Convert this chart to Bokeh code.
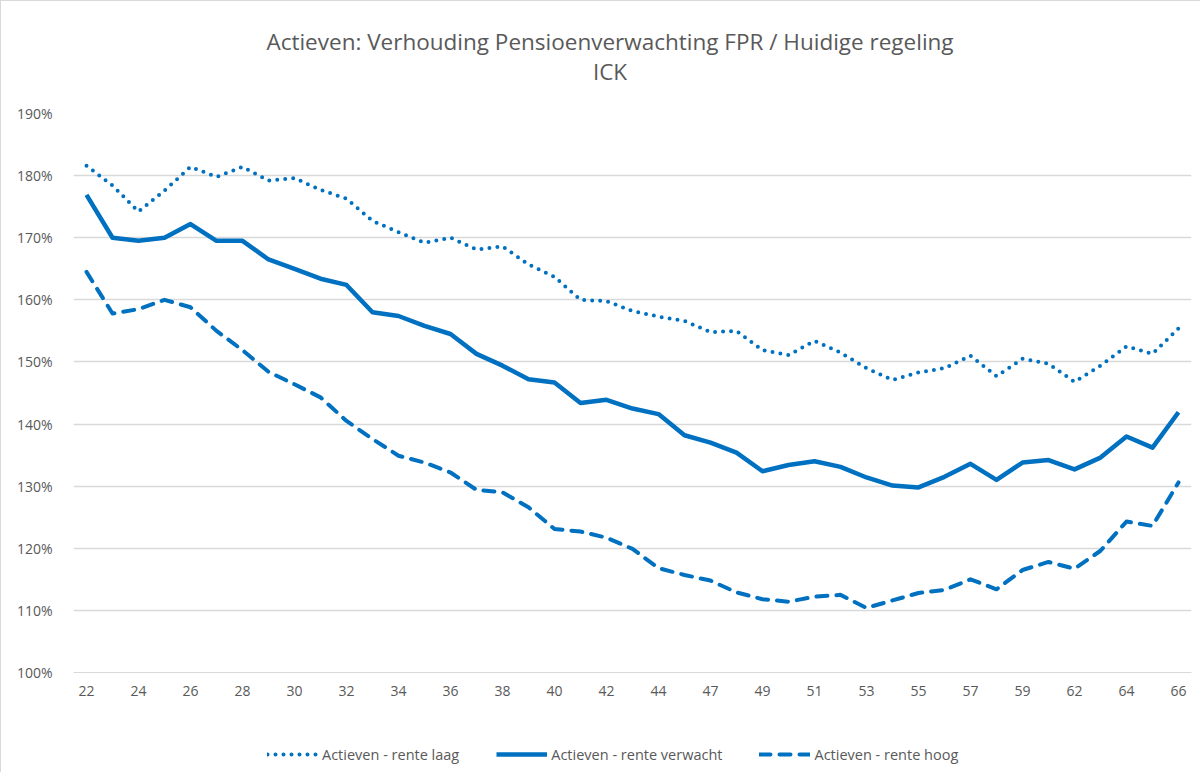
from bokeh.plotting import figure
from bokeh.layouts import column
from bokeh.models import (Range1d, FixedTicker, NumeralTickFormatter, Legend, LegendItem, Label)
from bokeh.embed import file_html
from bokeh.resources import INLINE

ages = ["22", "23", "24", "25", "26", "27", "28", "29", "30", "31", "32", "33", "34", "35",
        "36", "37", "38", "39", "40", "41", "42", "43", "44", "45", "47", "48", "49", "50",
        "51", "52", "53", "54", "55", "56", "57", "58", "59", "60", "62", "63", "64", "65", "66"]

rente_laag = [1.816, 1.784, 1.742, 1.776, 1.814, 1.798, 1.814, 1.792, 1.796, 1.777,
              1.763, 1.727, 1.709, 1.692, 1.700, 1.681, 1.686, 1.657, 1.637, 1.600,
              1.598, 1.582, 1.573, 1.566, 1.548, 1.550, 1.519, 1.511, 1.534, 1.515,
              1.490, 1.471, 1.483, 1.490, 1.510, 1.477, 1.505, 1.497, 1.468, 1.494,
              1.525, 1.513, 1.554]

rente_verwacht = [1.769, 1.700, 1.695, 1.700, 1.722, 1.695, 1.695, 1.665, 1.650, 1.634,
                  1.624, 1.580, 1.574, 1.558, 1.545, 1.513, 1.494, 1.472, 1.467, 1.434,
                  1.439, 1.425, 1.416, 1.382, 1.370, 1.354, 1.324, 1.334, 1.340, 1.331,
                  1.314, 1.301, 1.298, 1.315, 1.336, 1.310, 1.338, 1.342, 1.327, 1.346,
                  1.380, 1.362, 1.419]

rente_hoog = [1.645, 1.578, 1.585, 1.600, 1.588, 1.550, 1.519, 1.484, 1.464, 1.443,
              1.405, 1.376, 1.349, 1.338, 1.322, 1.294, 1.290, 1.266, 1.231, 1.227,
              1.217, 1.199, 1.168, 1.157, 1.148, 1.129, 1.118, 1.114, 1.122, 1.125,
              1.104, 1.116, 1.128, 1.133, 1.150, 1.134, 1.165, 1.178, 1.167, 1.196,
              1.243, 1.236, 1.306]

y_ticks = [1.0, 1.1, 1.2, 1.3, 1.4, 1.5, 1.6, 1.7, 1.8, 1.9]

title_line1 = "Actieven: Verhouding Pensioenverwachting FPR / Huidige regeling"
title_line2 = "ICK"
series_names = ["Actieven - rente laag", "Actieven - rente verwacht", "Actieven - rente hoog"]
series_values = [rente_laag, rente_verwacht, rente_hoog]

BLUE = "#0070C0"
GREY = "#595959"
GRID = "#d9d9d9"
FONT = "Open Sans"

idx = list(range(len(ages)))


def strip(height):
    f = figure(width=1200, height=height, output_backend="svg", toolbar_location=None,
               title=None, x_axis_location=None, y_axis_location=None,
               x_range=Range1d(0, 1), y_range=Range1d(0, 1),
               min_border_left=72, min_border_right=10, min_border_top=0, min_border_bottom=0)
    f.outline_line_color = None
    f.xgrid.grid_line_color = None
    f.ygrid.grid_line_color = None
    return f


# ---- title strip
p0 = strip(100)
p0.styles = {"border-top": "1px solid " + GRID, "border-left": "1px solid " + GRID}
for txt, yy in [(title_line1, 60), (title_line2, 30)]:
    p0.add_layout(Label(x=536.5, y=yy, x_units="screen", y_units="screen", text=txt,
                        text_align="center", text_baseline="middle",
                        text_font=FONT, text_font_size="22.5px", text_color=GREY))

# ---- main chart
p = figure(width=1200, height=622, output_backend="svg", toolbar_location=None,
           title=None, x_range=Range1d(-0.5, len(ages) - 0.5),
           y_range=Range1d(y_ticks[0], y_ticks[-1]),
           min_border_left=72, min_border_right=10, min_border_top=13, min_border_bottom=50)
p.outline_line_color = None
p.styles = {"border-left": "1px solid " + GRID}

p.xaxis.ticker = FixedTicker(ticks=idx[::2])
p.xaxis.major_label_overrides = {i: ages[i] for i in idx}
p.xaxis.major_tick_line_color = None
p.xaxis.minor_tick_line_color = None
p.xaxis.axis_line_color = GRID
p.xaxis.major_label_text_font = FONT
p.xaxis.major_label_text_font_size = "14px"
p.xaxis.major_label_text_color = GREY
p.xaxis.major_label_standoff = 7

p.yaxis.ticker = FixedTicker(ticks=y_ticks)
p.yaxis.formatter = NumeralTickFormatter(format="0%")
p.yaxis.major_tick_line_color = None
p.yaxis.minor_tick_line_color = None
p.yaxis.axis_line_color = None
p.yaxis.major_label_text_font = FONT
p.yaxis.major_label_text_font_size = "14px"
p.yaxis.major_label_text_color = GREY
p.yaxis.major_label_standoff = 15

p.xgrid.grid_line_color = None
p.ygrid.grid_line_color = GRID
p.ygrid.grid_line_width = 1.5

line_styles = [dict(line_color=BLUE, line_width=4, line_dash="0 8", line_cap="round"),
               dict(line_color=BLUE, line_width=4.5, line_join="round"),
               dict(line_color=BLUE, line_width=4, line_dash="11 9", line_cap="round",
                    line_join="round")]

for ys, st in zip(series_values, line_styles):
    p.line(idx, ys, **st)

# ---- legend strip (its renderers hold the series but lie outside its visible range)
p2 = strip(50)
p2.styles = {"border-left": "1px solid " + GRID}
legend_renderers = [p2.line(idx, ys, **st) for ys, st in zip(series_values, line_styles)]

legend = Legend(items=[LegendItem(label=n, renderers=[r]) for n, r in zip(series_names, legend_renderers)],
                orientation="horizontal", location=(194, 8),
                glyph_width=51, glyph_height=16, label_height=20, label_standoff=4, spacing=37,
                label_text_font=FONT, label_text_font_size="14.5px", label_text_color=GREY,
                padding=0, margin=0, border_line_color=None, background_fill_alpha=0)
p2.add_layout(legend, "center")

open("out.html", "w").write(file_html(column(p0, p, p2, spacing=0), INLINE))
